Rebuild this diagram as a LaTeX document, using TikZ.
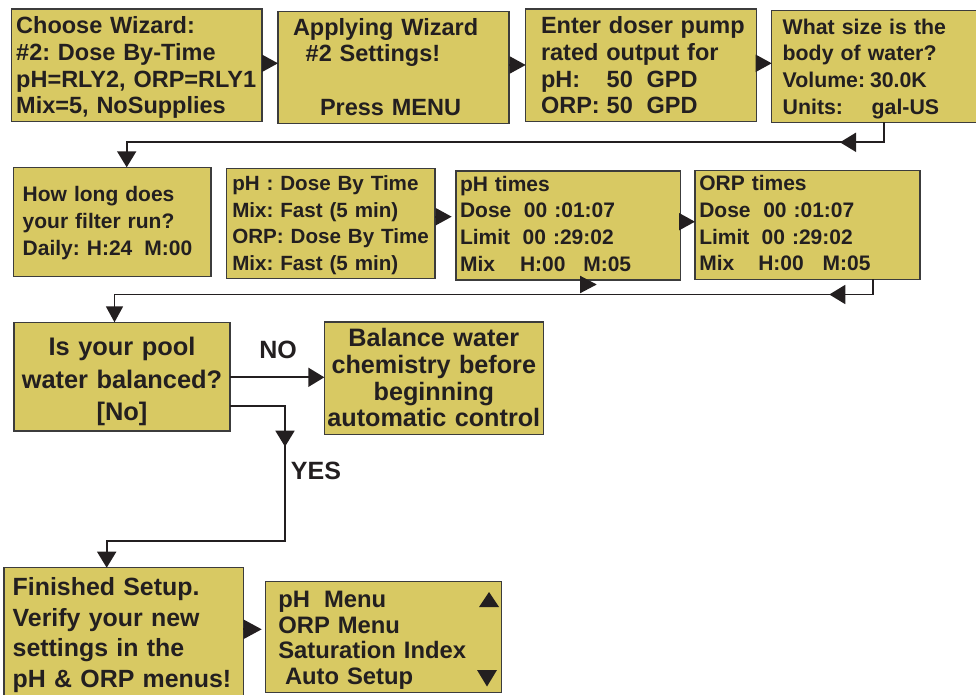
\documentclass[tikz,border=0pt]{standalone}
\usepackage{fontspec}
\setmainfont{Liberation Sans}
\usetikzlibrary{arrows.meta}
\definecolor{boxfill}{RGB}{216,201,99}
\definecolor{ink}{RGB}{35,31,32}
\definecolor{edgec}{RGB}{60,60,60}
\newcommand{\fs}[2]{\fontsize{#1}{#2}\selectfont}
\newcommand{\tl}[2][0pt]{\begin{tabular}{@{}l@{}}\rule{0pt}{\dimexpr\ht\strutbox+#1+#1\relax}#2\end{tabular}}
\newcommand{\tc}[2][0pt]{\begin{tabular}{@{}c@{}}\rule{0pt}{\dimexpr\ht\strutbox+#1+#1\relax}#2\end{tabular}}
\begin{document}
\frenchspacing
\begin{tikzpicture}[x=1pt,y=-1pt,
  box/.style={draw=edgec, line width=1.2pt, fill=boxfill, text=ink, inner ysep=0pt, outer sep=0pt, align=left},
  cbox/.style={draw=edgec, line width=1.2pt, fill=boxfill, text=ink, inner ysep=0pt, inner xsep=0pt, outer sep=0pt, align=center},
  conn/.style={draw=ink, line width=1.8pt},
  tip/.style={-{Triangle[length=16pt,width=17pt]}},
  tipb/.style={-{Triangle[length=16pt,width=19pt]}},
  lbl/.style={text=ink, inner sep=0pt},
]
\useasboundingbox (0,0) rectangle (976,695);

% Row 1
\node[box, inner xsep=4.5pt, text width=241.3pt, minimum height=109.3pt, font=\bfseries\fs{23.5}{26.7}] (b1) at (136.85,65.35)
 {\tl[3pt]{Choose Wizard:\\\#2: Dose By-Time\\pH=RLY2, ORP=RLY1\\Mix=5, NoSupplies}};
\node[box, inner xsep=15pt, text width=201pt, minimum height=109.3pt, font=\bfseries\fs{23.5}{26.7}] (b2) at (393.5,67.35)
 {\tl[2.5pt]{Applying Wizard\\\hspace*{12.7pt}\#2 Settings!\\[26.7pt]\hspace*{27pt}Press MENU}};
\node[box, inner xsep=15.3pt, text width=200.4pt, minimum height=109.3pt, font=\bfseries\fs{23.5}{26.7}] (b3) at (641.2,65.35)
 {\tl[3pt]{Enter doser pump\\rated output for\\\makebox[65.7pt][l]{pH:}\makebox[40pt][l]{50}GPD\\\makebox[65.7pt][l]{ORP:}\makebox[40pt][l]{50}GPD}};
\node[box, inner xsep=11pt, text width=186.3pt, minimum height=108.7pt, font=\bfseries\fs{21.3}{26.8}] (b4) at (875.85,66.35)
 {\tl[2.5pt]{What size is the\\body of water?\\\makebox[87.3pt][l]{Volume:}30.0K\\\makebox[89pt][l]{Units:}gal-US}};

% Row 2
\node[box, inner xsep=9.4pt, text width=178.9pt, minimum height=109.4pt, font=\bfseries\fs{21}{27}] (b5) at (112.15,222)
 {\tl[1pt]{How long does\\your filter run?\\Daily: H:24\hspace{12pt}M:00}};
\node[box, inner xsep=5.6pt, text width=197.1pt, minimum height=109pt, font=\bfseries\fs{20.6}{26.7}] (b6) at (330.85,223.8)
 {\tl[1.5pt]{pH : Dose By Time\\Mix: Fast (5 min)\\ORP: Dose By Time\\Mix: Fast (5 min)}};
\node[box, inner xsep=4pt, text width=216.3pt, minimum height=109pt, font=\bfseries\fs{21}{26.7}] (b7) at (568.15,225.5)
 {\tl[0.5pt]{pH times\\\makebox[64pt][l]{Dose}00 :01:07\\\makebox[62.7pt][l]{Limit}00 :29:02\\\makebox[60pt][l]{Mix}H:00\hspace{17.8pt}M:05}};
\node[box, inner xsep=4.3pt, text width=216.4pt, minimum height=108.6pt, font=\bfseries\fs{21}{26.7}] (b8) at (807.5,225)
 {\tl[0.5pt]{ORP times\\\makebox[64pt][l]{Dose}00 :01:07\\\makebox[62.4pt][l]{Limit}00 :29:02\\\makebox[59pt][l]{Mix}H:00\hspace{18.9pt}M:05}};

% Row 3
\node[cbox, text width=216pt, minimum height=108.7pt, font=\bfseries\fs{25.4}{32.7}] (pool) at (122,376.65)
 {\tc[5pt]{Is your pool\\water balanced?\\{[No]}}};
\node[cbox, text width=219pt, minimum height=108.7pt, font=\bfseries\fs{25.2}{26.7}] (bal) at (433.8,378.35)
 {\tc[3pt]{Balance water\\chemistry before\\beginning\\automatic control}};
\node[lbl, font=\bfseries\fs{25}{30}] (no) at (278,350) {NO};
\node[lbl, font=\bfseries\fs{25}{30}] (yes) at (316,470.7) {YES};

% Row 4
\node[box, inner xsep=8.7pt, text width=221.9pt, minimum height=129.6pt, font=\bfseries\fs{24.9}{30.5}] (fin) at (123.65,632.5)
 {\tl[3pt]{Finished Setup.\\Verify your new\\settings in the\\pH \& ORP menus!}};
\node[box, inner xsep=12.6pt, text width=210.8pt, minimum height=109.4pt, font=\bfseries\fs{23.8}{25.6}] (menu) at (383.7,637)
 {\tl[4pt]{pH\hspace{14pt}Menu\\ORP Menu\\Saturation Index\\\hspace*{6.7pt}Auto Setup}};
\fill[ink] (479,607) -- (499,607) -- (489,592) -- cycle;
\fill[ink] (477,670) -- (497,670) -- (487,686.5) -- cycle;

% Row 1 arrows
\coordinate (r12) at (270,63.3);
\coordinate (r23) at (517,65);
\coordinate (r34) at (764,63.3);
\draw[conn,tip] (b1.east |- r12) -- (b2.west |- r12);
\draw[conn,tip] (b2.east |- r23) -- (b3.west |- r23);
\draw[conn,tip] (b3.east |- r34) -- (b4.west |- r34);

% Row1 -> Row2
\coordinate (c1) at (884,142.3);
\coordinate (c2) at (126.7,142.3);
\coordinate (c1a) at (856,142.3);
\coordinate (c1b) at (840,142.3);
\draw[conn,tipb] (b4.south -| c1) -- (c1) -- (c2) -- (c2 |- b5.north);
\draw[conn,tipb] (c1a) -- (c1b);

% Row 2 arrows
\coordinate (a67) at (451.7,216.7);
\coordinate (a78) at (688,221.7);
\draw[conn,tip] (b6.east |- a67) -- (a67);
\draw[conn,tip] (b7.east |- a78) -- (b8.west |- a78);

% Row2 -> Row3
\coordinate (d1) at (872.7,294.5);
\coordinate (d2) at (114.5,294.5);
\coordinate (d1a) at (846,294.5);
\coordinate (d1b) at (829.3,294.5);
\draw[conn,tip] (b8.south -| d1) -- (d1) -- (d2) -- (d2 |- pool.north);
\draw[conn,tipb] (d1a) -- (d1b);
\fill[ink] (580,275.7) -- (596.7,284.5) -- (580,293.3) -- cycle;

% NO
\coordinate (n1) at (270,377.3);
\draw[conn,tipb] (pool.east |- n1) -- (bal.west |- n1);

% YES
\coordinate (e1) at (285,405.7);
\coordinate (e2) at (285,540.7);
\coordinate (e3) at (106.7,540.7);
\coordinate (e1a) at (285,431);
\coordinate (e1b) at (285,446.7);
\draw[conn,tipb] (pool.east |- e1) -- (e1) -- (e2) -- (e3) -- (e3 |- fin.north);
\draw[conn,tipb] (e1a) -- (e1b);

% Finished -> menu
\coordinate (m1) at (261.7,629.3);
\draw[conn,-{Triangle[length=18pt,width=19pt]}] (fin.east |- m1) -- (m1);
\end{tikzpicture}
\end{document}
